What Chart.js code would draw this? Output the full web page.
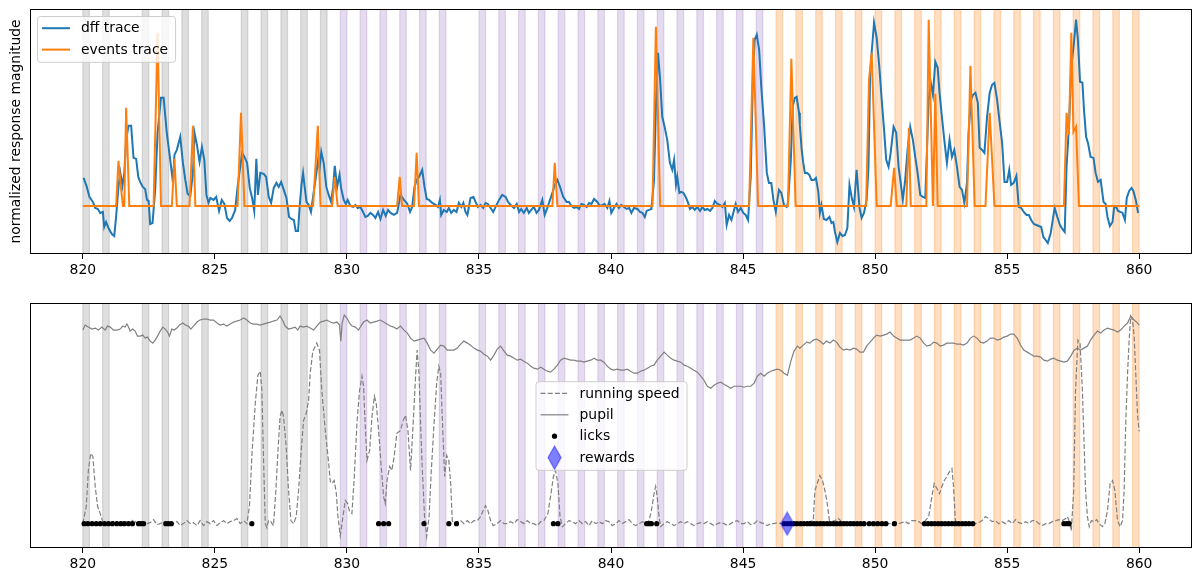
<!DOCTYPE html>
<html>
<head>
<meta charset="utf-8">
<title>response traces</title>
<script src="https://cdn.jsdelivr.net/npm/chart.js@4.4.1/dist/chart.umd.min.js"></script>
<style>
  body { margin: 0; background: #fff; }
  #wrap { position: relative; width: 1202px; height: 582px; }
  #wrap canvas { position: absolute; left: 0; }
</style>
</head>
<body>
<div id="wrap">
  <canvas id="topChart" width="1202" height="291" style="top:0"></canvas>
  <canvas id="bottomChart" width="1202" height="291" style="top:291px"></canvas>
</div>
<script>
// ---- data ----
const xTicks = [820, 825, 830, 835, 840, 845, 850, 855, 860];

// stimulus onsets (s), one list per image block
const grayStarts = [820.0, 820.75, 822.25, 823.0, 823.75, 824.5, 826.0, 826.75, 827.5, 828.25, 829.0];
const purpleStarts = [829.75, 830.5, 831.25, 832.0, 832.75, 833.5, 835.0, 835.75, 836.5, 837.25, 838.0, 838.75,
  839.5, 840.25, 841.0, 841.75, 842.5, 843.25, 844.0, 844.75, 845.5];
const orangeStarts = [846.25, 847.0, 847.75, 848.5, 849.25, 850.0, 850.75, 851.5, 852.25, 853.0, 853.75, 854.5,
  855.25, 856.0, 856.75, 857.5, 858.25, 859.0, 859.75];
const stimDuration = 0.25;

// dff trace
const dffT = [820.03, 820.15, 820.25, 820.38, 820.47, 820.57, 820.66, 820.76, 820.81, 820.88, 820.97, 821.10, 821.19, 821.26,
  821.35, 821.42, 821.50, 821.57, 821.64, 821.73, 821.83, 821.92, 822.02, 822.10, 822.17, 822.27, 822.36, 822.43, 822.49,
  822.55, 822.64, 822.74, 822.83, 822.96, 823.06, 823.18, 823.31, 823.41, 823.47, 823.56, 823.69, 823.79, 823.88, 823.97,
  824.07, 824.17, 824.23, 824.32, 824.42, 824.51, 824.60, 824.68, 824.76, 824.83, 824.95, 825.05, 825.16, 825.26, 825.36,
  825.46, 825.56, 825.65, 825.77, 825.86, 825.96, 826.03, 826.12, 826.22, 826.32, 826.41, 826.49, 826.57, 826.63, 826.72,
  826.85, 826.94, 827.04, 827.13, 827.23, 827.33, 827.42, 827.51, 827.61, 827.71, 827.81, 827.90, 827.99, 828.06, 828.15,
  828.21, 828.28, 828.34, 828.40, 828.47, 828.55, 828.64, 828.74, 828.82, 828.91, 828.97, 829.03, 829.12, 829.22, 829.31,
  829.40, 829.48, 829.54, 829.63, 829.72, 829.78, 829.88, 829.96, 830.03, 830.13, 830.24, 830.32, 830.41, 830.51, 830.61,
  830.70, 830.79, 830.89, 830.99, 831.08, 831.18, 831.27, 831.37, 831.47, 831.56, 831.65, 831.78, 831.90,
  832.03, 832.16, 832.29, 832.39, 832.47, 832.56, 832.64, 832.73, 832.85, 832.94, 833.02, 833.11, 833.23, 833.36, 833.45,
  833.52, 833.57, 833.67, 833.78, 833.86, 833.95, 834.05, 834.15, 834.24, 834.33, 834.41, 834.49, 834.56, 834.62, 834.68,
  834.79, 834.87, 834.96, 835.06, 835.16, 835.25, 835.34, 835.44, 835.54, 835.63, 835.76, 835.88, 836.01, 836.10, 836.20,
  836.33, 836.43, 836.52, 836.60, 836.70, 836.81, 836.89, 836.98, 837.08, 837.18, 837.27, 837.40, 837.49, 837.59, 837.69,
  837.78, 837.87, 837.97, 838.07, 838.19, 838.32, 838.41, 838.50, 838.60, 838.70, 838.79, 838.88, 838.98, 839.08, 839.17,
  839.26, 839.36, 839.48, 839.58, 839.68, 839.76, 839.86, 839.94, 840.01, 840.11, 840.21, 840.30, 840.39, 840.49, 840.59,
  840.69, 840.77, 840.87, 841.00, 841.10, 841.19, 841.28, 841.35, 841.44, 841.53, 841.63, 841.70, 841.78, 841.86, 841.94,
  842.03, 842.13, 842.23, 842.32, 842.39, 842.46, 842.51, 842.59, 842.66, 842.74, 842.83, 842.92, 842.99, 843.08, 843.17,
  843.27, 843.37, 843.46, 843.55, 843.65, 843.75, 843.84, 843.93, 844.03, 844.13, 844.22, 844.31, 844.38, 844.47, 844.56,
  844.63, 844.72, 844.81, 844.91, 845.01, 845.10, 845.19, 845.29, 845.37, 845.44, 845.52, 845.61, 845.69, 845.80, 845.90,
  845.98, 846.07, 846.15, 846.24, 846.30, 846.36, 846.45, 846.55, 846.65, 846.70, 846.81, 846.88, 846.96, 847.03, 847.12,
  847.15, 847.22, 847.28, 847.34, 847.43, 847.51, 847.59, 847.68, 847.76, 847.85, 847.91, 847.97, 848.06, 848.16, 848.27,
  848.35, 848.42, 848.48, 848.57, 848.67, 848.77, 848.86, 848.95, 849.03, 849.11, 849.20, 849.30, 849.41, 849.49, 849.58,
  849.68, 849.75, 849.81, 849.87, 849.96, 850.06, 850.16, 850.25, 850.34, 850.42, 850.51, 850.59, 850.70, 850.80, 850.89,
  850.97, 851.05, 851.14, 851.23, 851.33, 851.43, 851.52, 851.61, 851.71, 851.81, 851.90, 852.03, 852.11, 852.19, 852.28,
  852.37, 852.44, 852.53, 852.62, 852.72, 852.82, 852.91, 853.00, 853.10, 853.20, 853.29, 853.38, 853.48, 853.54, 853.63,
  853.71, 853.80, 853.89, 853.96, 854.05, 854.14, 854.24, 854.34, 854.43, 854.52, 854.62, 854.72, 854.81, 854.90, 855.00,
  855.08, 855.15, 855.25, 855.35, 855.44, 855.53, 855.63, 855.73, 855.82, 855.91, 856.01, 856.11, 856.20, 856.29, 856.37,
  856.46, 856.54, 856.65, 856.71, 856.80, 856.90, 857.00, 857.09, 857.18, 857.25, 857.34, 857.43, 857.53, 857.61, 857.68,
  857.76, 857.85, 857.91, 857.99, 858.06, 858.16, 858.27, 858.35, 858.44, 858.54, 858.65, 858.73, 858.80, 858.89, 858.99,
  859.05, 859.13, 859.20, 859.28, 859.37, 859.46, 859.53, 859.62, 859.71, 859.78, 859.87, 859.96];
const dffV = [0.28, 0.19, 0.09, 0.04, -0.02, -0.03, -0.07, -0.06, -0.21, -0.16, -0.22, -0.28, -0.30, -0.11,
  0.19, 0.33, 0.20, 0.33, 0.66, 0.80, 0.80, 0.48, 0.47, 0.29, 0.24, 0.19, 0.17, 0.06, 0.05,
  -0.18, -0.17, 0.16, 0.73, 1.08, 1.08, 0.73, 0.46, 0.24, 0.51, 0.56, 0.69, 0.43, 0.26, 0.12,
  0.10, 0.33, 0.73, 0.61, 0.44, 0.59, 0.46, 0.11, 0.03, 0.08, 0.06, 0.09, -0.05, 0.06, 0.02,
  -0.12, -0.15, -0.12, -0.04, 0.19, 0.39, 0.53, 0.49, 0.43, 0.18, 0.08, -0.05, 0.47, 0.11, 0.33,
  0.32, 0.29, 0.09, 0.03, 0.18, 0.23, 0.19, 0.24, 0.16, 0.08, -0.11, -0.13, -0.14, -0.25, -0.25,
  -0.01, 0.21, 0.33, 0.19, 0.04, 0.01, -0.06, 0.13, 0.28, 0.46, 0.38, 0.54, 0.43, 0.19, 0.11,
  0.04, 0.19, 0.40, 0.19, 0.31, 0.18, 0.06, 0.02, 0.06, 0.00, -0.01, 0.01, -0.02, -0.01, -0.06,
  -0.11, -0.10, -0.07, -0.09, -0.12, -0.06, -0.13, -0.04, -0.10, -0.04, -0.07, -0.09, -0.07,
  0.11, 0.06, 0.02, -0.06, -0.01, 0.19, 0.26, 0.29, 0.36, 0.19, 0.07, 0.06, 0.03, 0.01, -0.01,
  0.06, -0.09, -0.04, -0.06, -0.02, -0.07, -0.04, -0.06, 0.03, -0.01, 0.03, -0.06, -0.09, -0.01, 0.08,
  0.09, 0.04, -0.01, 0.01, -0.02, 0.03, 0.02, -0.02, -0.06, -0.01, 0.06, 0.11, 0.09, 0.04, 0.01,
  -0.02, 0.02, -0.06, -0.03, -0.07, -0.02, -0.07, -0.04, -0.01, -0.07, -0.04, 0.06, -0.09, -0.02, 0.06,
  0.13, 0.21, 0.26, 0.19, 0.09, 0.04, 0.04, 0.00, -0.02, -0.01, -0.03, 0.02, 0.01, -0.01, 0.03,
  0.02, 0.07, 0.04, 0.00, 0.01, 0.02, -0.02, 0.05, -0.07, -0.02, 0.02, -0.02, 0.01, -0.01, -0.03,
  -0.02, -0.07, -0.02, -0.03, -0.06, -0.07, -0.11, -0.05, -0.04, -0.03, 0.26, 0.99, 1.53, 1.26, 0.89,
  0.79, 0.66, 0.43, 0.36, 0.46, 0.21, 0.29, 0.13, 0.14, 0.13, 0.09, 0.03, -0.03, -0.01, -0.04,
  -0.01, -0.05, -0.01, -0.04, -0.03, -0.05, -0.02, 0.05, 0.02, 0.01, -0.01, 0.03, -0.19, -0.09, -0.14,
  -0.07, 0.02, -0.06, -0.02, -0.07, -0.09, -0.14, 0.29, 1.23, 1.66, 1.71, 1.56, 1.19, 0.79, 0.33,
  0.23, 0.23, 0.06, -0.06, 0.06, 0.16, 0.13, 0.01, -0.01, 0.03, 0.46, 0.99, 1.08, 1.09, 0.93,
  0.81, 0.56, 0.43, 0.33, 0.33, 0.31, 0.26, 0.26, 0.28, 0.14, -0.07, 0.01, -0.13, -0.14, -0.11,
  -0.17, -0.16, -0.26, -0.36, -0.27, -0.30, -0.29, -0.22, 0.21, 0.09, -0.01, 0.36, -0.02, -0.12, -0.07,
  0.06, 0.39, 1.28, 1.53, 1.83, 1.68, 1.39, 1.06, 0.76, 0.46, 0.39, 0.53, 0.79, 0.73, 0.39,
  0.23, 0.06, 0.26, 0.56, 0.79, 0.66, 0.49, 0.33, 0.11, 0.09, 0.08, 1.06, 1.23, 1.11, 1.44,
  1.38, 1.13, 0.89, 0.66, 0.43, 0.66, 0.49, 0.56, 0.39, 0.19, 0.16, 0.03, 0.23, 0.73, 1.06,
  1.11, 1.13, 1.03, 0.58, 0.56, 0.53, 0.89, 1.13, 1.21, 1.23, 1.06, 0.83, 0.63, 0.24, 0.24,
  0.36, 0.21, 0.23, 0.30, -0.01, -0.02, -0.06, -0.09, -0.09, -0.14, -0.18, -0.19, -0.20, -0.21, -0.31,
  -0.34, -0.37, -0.27, -0.17, -0.02, -0.11, -0.19, -0.23, -0.26, 0.39, 0.79, 1.39, 1.63, 1.86, 1.66,
  1.24, 1.23, 0.96, 0.69, 0.63, 0.49, 0.48, 0.33, 0.24, 0.26, 0.04, 0.02, -0.11, -0.20, -0.16,
  -0.02, -0.01, -0.05, -0.06, -0.07, -0.14, 0.08, 0.15, 0.18, 0.15, 0.06, -0.07];

// events trace
const eventT = [820.00, 821.26, 821.35, 821.44, 821.52, 821.57, 821.64, 821.76, 822.68, 822.83, 822.96, 823.37, 823.47,
  823.56, 824.04, 824.17, 824.26, 825.86, 825.99, 826.12, 828.72, 828.90, 829.00, 829.44, 829.54, 829.65, 831.90, 832.00,
  832.09, 832.54, 832.64, 832.73, 837.78, 837.87, 837.97, 841.57, 841.70, 841.86, 845.23, 845.39, 845.57, 846.70, 846.83,
  846.99, 849.66, 849.77, 849.87, 850.06, 850.59, 850.72, 850.82, 851.18, 851.28, 851.35, 851.94, 852.03, 852.19, 852.28,
  852.37, 853.48, 853.61, 853.77, 854.18, 854.34, 854.52, 857.15, 857.25, 857.34, 857.43, 857.51, 857.61, 857.72, 860.00];
const eventV = [0, 0, 0.45, 0.19, 0, 0, 0.98, 0, 0, 1.73, 0, 0, 0.47,
  0, 0, 0.80, 0, 0, 0.93, 0, 0, 0.80, 0, 0, 0.29, 0, 0, 0.29,
  0, 0, 0.53, 0, 0, 0.43, 0, 0, 1.79, 0, 0, 1.68, 0, 0, 1.47,
  0, 0, 1.26, 1.53, 0, 0, 0.38, 0, 0, 0.78, 0, 0, 1.86, 0, 1.12,
  0, 0, 1.40, 0, 0, 0.93, 0, 0, 0.93, 0.71, 1.73, 0.74, 0.79, 0, 0];

// running speed
const runT = [820.00, 820.13, 820.21, 820.30, 820.38, 820.47, 820.56, 820.66,
  820.78, 820.91, 821.04, 821.16, 821.29, 821.41, 821.54, 821.67, 821.79, 821.92, 822.05, 822.17, 822.30, 822.42, 822.55,
  822.68, 822.80, 822.93, 823.06, 823.18, 823.31, 823.43, 823.56, 823.69, 823.81, 823.94, 824.07, 824.19, 824.32, 824.44,
  824.57, 824.70, 824.82, 824.95, 825.08, 825.20, 825.33, 825.45, 825.58, 825.71, 825.83, 825.96, 826.09, 826.21,
  826.31, 826.40, 826.53, 826.63, 826.72, 826.78, 826.84, 826.91, 826.97, 827.03, 827.12, 827.22, 827.31, 827.39, 827.47,
  827.54, 827.60, 827.70, 827.79, 827.88, 827.98, 828.08, 828.17, 828.27, 828.36, 828.46, 828.55, 828.61, 828.71, 828.86,
  828.96, 829.05, 829.18, 829.31, 829.37, 829.43, 829.52, 829.60, 829.66, 829.75, 829.85, 829.94, 830.03, 830.10, 830.19,
  830.28, 830.38, 830.48, 830.57, 830.63, 830.69, 830.76, 830.86, 830.95, 831.04, 831.11, 831.20, 831.29, 831.39, 831.45,
  831.52, 831.62, 831.70, 831.79, 831.89,
  832.03, 832.13, 832.22, 832.31, 832.41, 832.51, 832.60, 832.66, 832.73, 832.79, 832.85, 832.94, 833.02, 833.11, 833.19,
  833.30, 833.40, 833.48, 833.55, 833.61, 833.70, 833.78, 833.86, 833.93, 833.99, 834.05,
  834.18, 834.31, 834.43, 834.56, 834.68, 834.81, 834.94, 835.06, 835.16, 835.25, 835.34, 835.44, 835.54, 835.69, 835.82,
  835.95, 836.07, 836.20, 836.33, 836.45, 836.58, 836.70, 836.83, 836.96, 837.08, 837.21, 837.34, 837.46, 837.61, 837.71,
  837.82, 837.90, 837.99, 838.07, 838.16,
  838.28, 838.41, 838.54, 838.66, 838.79, 838.91, 839.04, 839.17, 839.29, 839.42, 839.55, 839.67, 839.80, 839.92, 840.05,
  840.18, 840.30, 840.43, 840.56, 840.68, 840.81, 840.93, 841.06, 841.19, 841.31, 841.44, 841.53, 841.63, 841.69, 841.75,
  841.82, 841.88,
  842.01, 842.13, 842.26, 842.39, 842.51, 842.64, 842.77, 842.89, 843.02, 843.14, 843.27, 843.40, 843.52, 843.65, 843.78,
  843.90, 844.03, 844.15, 844.28, 844.41, 844.53, 844.66, 844.79, 844.91, 845.04, 845.16, 845.29, 845.42, 845.54, 845.67,
  845.80, 845.92, 846.05, 846.17, 846.30, 846.43, 846.55, 846.68, 846.81, 846.93, 847.06,
  847.15, 847.28, 847.41, 847.53, 847.66, 847.72, 847.81, 847.91, 848.01, 848.10, 848.19, 848.27, 848.35, 848.48, 848.61,
  848.73, 848.86, 848.99, 849.11, 849.24, 849.37, 849.49, 849.62, 849.75, 849.87, 850.00, 850.13, 850.25, 850.38, 850.51,
  850.63, 850.76, 850.89, 851.01, 851.14, 851.27, 851.39, 851.52, 851.65, 851.77, 851.90, 852.03, 852.15, 852.24, 852.34,
  852.44, 852.53, 852.62, 852.72, 852.82, 852.91, 852.97, 853.04, 853.16, 853.29, 853.42, 853.54, 853.67, 853.80, 853.92,
  854.05, 854.18, 854.30, 854.43, 854.56, 854.68, 854.81, 854.94, 855.06, 855.19, 855.32, 855.44, 855.57, 855.70, 855.82,
  855.95, 856.08, 856.20, 856.33, 856.46, 856.58, 856.71, 856.84, 856.96, 857.09, 857.22, 857.28, 857.34, 857.43, 857.52,
  857.59, 857.68, 857.76, 857.85, 857.91, 857.97, 858.04, 858.11, 858.19, 858.29, 858.39, 858.48, 858.61, 858.70, 858.80,
  858.90, 858.99, 859.08, 859.18, 859.28, 859.37, 859.43, 859.49, 859.56, 859.62, 859.68, 859.75, 859.81, 859.87, 859.94,
  860.00];
const runV = [0, 0.17, 0.53, 0.70, 0.67, 0.37, 0.17, 0.10,
  0, -0.02, 0, 0.02, -0.01, 0.01, 0, 0.02, 0.01, 0.04, 0, -0.01, -0.02, 0, 0.01,
  0.04, -0.01, 0, 0.02, 0, -0.02, 0, 0.02, -0.02, 0, 0.03, 0, 0.01, -0.02, 0.03,
  -0.02, 0.02, 0, 0.03, -0.02, 0.01, 0.03, 0, 0.02, 0.03, 0.05, 0, 0.03, 0,
  0.17, 0.67, 1.20, 1.48, 1.52, 1.33, 0.67, 0, -0.04, 0.03, 0.02, -0.02, 0.33, 0.73, 1.07,
  1.13, 1.07, 0.77, 0.33, 0.03, 0, 0.07, 0.33, 0.73, 1.03, 1.10, 1.23, 1.50, 1.72, 1.80,
  1.73, 1.33, 0.93, 0.60, 0.42, 0.40, 0.43, 0.30, 0.07, -0.12, 0.07, 0.23, 0.20, 0.12, 0.10,
  0.47, 1.00, 1.33, 1.47, 1.37, 1.00, 0.63, 0.73, 1.07, 1.27, 1.20, 0.93, 0.60, 0.27, 0.20,
  0.43, 0.57, 0.53, 0.67, 0.90,
  0.93, 1.03, 1.08, 0.93, 0.53, 1.00, 1.47, 1.73, 1.50, 1.00, 0.57, 0.07, -0.13, 0.07, 0.50,
  1.00, 1.40, 1.57, 1.50, 1.07, 0.47, 0.68, 0.63, 0.40, 0.03, 0,
  0.02, 0.03, 0, 0.03, 0, 0.03, 0.03, 0.07, 0.13, 0.18, 0.13, 0.03, -0.02, 0, 0.03,
  0, 0, 0.02, 0, 0.04, 0.02, 0, 0.03, 0, 0, -0.02, 0.02, 0.03, 0.10, 0.27,
  0.47, 0.53, 0.40, 0.07, -0.03,
  0, 0.03, 0.02, 0, 0.03, 0, 0.02, -0.02, 0.03, 0, 0.02, 0, 0.03, 0.02, -0.02,
  0, 0.03, 0, 0.02, 0.04, 0, -0.02, 0, 0.02, 0, 0.03, 0.13, 0.30, 0.37, 0.27,
  0.07, -0.03,
  0, 0.02, 0, -0.02, 0, 0.02, 0, 0.02, 0, -0.02, 0, 0.01, 0, 0.02, 0,
  -0.02, 0, 0.01, 0, -0.02, 0, 0.02, 0.03, 0, 0, 0.02, -0.01, 0, 0.03, 0.01,
  0, -0.02, 0, 0, 0.01, 0, 0, 0, 0, 0, 0,
  0, 0, 0.01, 0.02, 0.03, 0.33, 0.40, 0.48, 0.43, 0.33, 0.20, 0.03, 0.02, 0.03, 0.05,
  0.02, 0, 0, 0.02, 0, 0.01, 0, 0, 0, 0, 0, 0, 0, 0, 0,
  0, 0.02, 0, 0.01, 0.02, 0, 0.03, 0.03, 0.02, 0, 0.03, 0.07, 0.27, 0.40, 0.35,
  0.30, 0.37, 0.43, 0.47, 0.52, 0.55, 0.37, 0.03, 0, 0, 0.01, 0, 0.02, 0, 0.01,
  0.03, 0.07, 0.05, 0.02, 0.03, 0, 0.02, 0, 0.03, 0, 0.04, 0.01, 0, 0.02, 0,
  0.03, 0.03, 0, -0.02, 0, 0, 0.02, 0.03, 0.04, 0.03, 0.05, 0.07, 0.03, -0.07, 0.33,
  1.33, 1.83, 1.80, 1.33, 0.83, 0.33, 0.07, -0.03, 0.03, 0.02, 0.04, 0, -0.03, 0, 0.13,
  0.40, 0.43, 0.33, 0.03, -0.03, 0.03, 0.33, 1.00, 1.50, 1.83, 2.07, 2.03, 1.87, 1.50, 1.07,
  0.92];

// pupil area
const pupilT = [820.00, 820.09, 820.21, 820.34, 820.47, 820.59, 820.72, 820.85, 820.93, 821.04, 821.16, 821.29, 821.41,
  821.52, 821.60, 821.67, 821.73, 821.79, 821.89, 821.98, 822.07, 822.17, 822.27, 822.36, 822.45, 822.55, 822.65, 822.74,
  822.83, 822.93, 823.03, 823.12, 823.21, 823.28, 823.37, 823.46, 823.56, 823.66, 823.79, 823.88, 824.00, 824.09, 824.19,
  824.32, 824.44, 824.57, 824.70, 824.82, 824.95, 825.08, 825.20, 825.33, 825.45, 825.58, 825.71, 825.83, 825.96, 826.09,
  826.21, 826.34, 826.46, 826.59, 826.72, 826.84, 826.97, 827.10, 827.22, 827.35, 827.47, 827.58, 827.66, 827.79, 827.92,
  828.04, 828.14, 828.23, 828.36, 828.48, 828.61, 828.74, 828.86, 828.99, 829.12, 829.24, 829.37, 829.49, 829.62, 829.72,
  829.77, 829.82, 829.90, 830.00, 830.10, 830.20, 830.32, 830.44, 830.53, 830.63, 830.76, 830.88, 831.01, 831.14, 831.26,
  831.39, 831.52, 831.64, 831.77, 831.89,
  832.03, 832.16, 832.29, 832.41, 832.54, 832.66, 832.79, 832.92, 833.04, 833.17, 833.30, 833.42, 833.55, 833.67, 833.80,
  833.93, 834.05, 834.18, 834.31, 834.43, 834.56, 834.68, 834.81, 834.94, 835.06, 835.19, 835.32, 835.44, 835.57, 835.69,
  835.82, 835.95, 836.07, 836.20, 836.33, 836.45, 836.58, 836.70, 836.83, 836.96, 837.08, 837.21, 837.34, 837.46, 837.59,
  837.71, 837.84, 837.97, 838.09, 838.22, 838.35, 838.47, 838.60, 838.72, 838.85, 838.98, 839.10, 839.23, 839.36, 839.48,
  839.61, 839.73, 839.86, 839.99, 840.11, 840.24, 840.37, 840.49, 840.62, 840.74, 840.87, 841.00, 841.12, 841.25, 841.38,
  841.50, 841.63, 841.75, 841.88, 842.01, 842.13, 842.26, 842.39, 842.51, 842.64, 842.77, 842.89, 843.02, 843.14, 843.27,
  843.40, 843.52, 843.65, 843.78, 843.90, 844.03, 844.15, 844.28, 844.41, 844.53, 844.66, 844.79, 844.91, 845.04, 845.16,
  845.29, 845.42, 845.54, 845.67, 845.80, 845.92, 846.05, 846.17, 846.30, 846.43, 846.55, 846.68, 846.81, 846.93, 847.06,
  847.15, 847.28, 847.41, 847.53, 847.66, 847.78, 847.91, 848.04, 848.16, 848.29, 848.42, 848.54, 848.67, 848.80, 848.92,
  849.05, 849.18, 849.30, 849.43, 849.56, 849.68, 849.81, 849.94, 850.06, 850.19, 850.32, 850.44, 850.57, 850.70, 850.82,
  850.95, 851.08, 851.20, 851.33, 851.46, 851.58, 851.71, 851.84, 851.96, 852.09, 852.22, 852.34, 852.47, 852.59, 852.72,
  852.85, 852.97, 853.10, 853.23, 853.35, 853.48, 853.61, 853.73, 853.86, 853.99, 854.11, 854.24, 854.37, 854.49, 854.62,
  854.75, 854.87, 855.00, 855.13, 855.25, 855.38, 855.51, 855.63, 855.76, 855.89, 856.01, 856.14, 856.27, 856.39, 856.52,
  856.65, 856.77, 856.90, 857.03, 857.15, 857.28, 857.41, 857.53, 857.66, 857.78, 857.91, 858.04, 858.16, 858.29, 858.42,
  858.54, 858.67, 858.80, 858.92, 859.05, 859.18, 859.30, 859.43, 859.56, 859.68, 859.81, 859.94, 860.00];
const pupilV = [1.93, 1.98, 1.96, 1.94, 1.95, 1.93, 1.96, 1.93, 1.97, 1.96, 1.93, 1.93, 1.94,
  1.97, 1.96, 1.99, 1.96, 1.92, 1.94, 1.92, 1.87, 1.87, 1.88, 1.85, 1.86, 1.82, 1.80, 1.83,
  1.87, 1.92, 1.96, 1.94, 1.91, 1.87, 1.94, 1.93, 1.95, 1.98, 2.00, 1.98, 1.97, 1.94, 1.97,
  2.01, 2.03, 2.04, 2.04, 2.03, 2.03, 2.00, 1.98, 1.99, 1.97, 1.99, 2.01, 2.02, 2.03, 2.05,
  2.03, 2.00, 1.99, 1.99, 1.98, 1.99, 2.00, 2.01, 2.02, 2.03, 2.07, 2.02, 1.97, 1.94, 1.95,
  1.96, 1.93, 1.97, 1.96, 1.97, 1.95, 1.93, 1.97, 2.01, 2.02, 2.03, 2.01, 2.00, 2.01, 1.98,
  1.82, 2.00, 2.08, 2.05, 2.00, 1.97, 1.96, 1.93, 1.97, 2.01, 2.03, 2.00, 2.01, 2.02, 2.03,
  2.01, 1.99, 1.97, 1.96, 1.94,
  1.97, 1.93, 1.90, 1.85, 1.82, 1.83, 1.84, 1.85, 1.80, 1.73, 1.70, 1.74, 1.78, 1.77, 1.73,
  1.73, 1.73, 1.75, 1.79, 1.82, 1.80, 1.78, 1.75, 1.73, 1.72, 1.69, 1.67, 1.63, 1.68, 1.74,
  1.77, 1.72, 1.68, 1.67, 1.65, 1.63, 1.64, 1.62, 1.60, 1.57, 1.55, 1.54, 1.56, 1.54, 1.52,
  1.51, 1.54, 1.58, 1.63, 1.65, 1.64, 1.63, 1.63, 1.62, 1.62, 1.61, 1.62, 1.63, 1.65, 1.63,
  1.63, 1.61, 1.57, 1.54, 1.53, 1.54, 1.53, 1.53, 1.54, 1.52, 1.50, 1.50, 1.52, 1.53, 1.55,
  1.57, 1.58, 1.63, 1.67, 1.71, 1.68, 1.65, 1.63, 1.62, 1.61, 1.58, 1.57, 1.55, 1.53, 1.51,
  1.47, 1.43, 1.37, 1.35, 1.38, 1.40, 1.41, 1.39, 1.37, 1.35, 1.37, 1.37, 1.37, 1.36, 1.37,
  1.37, 1.40, 1.47, 1.50, 1.47, 1.50, 1.52, 1.53, 1.54, 1.53, 1.50, 1.48, 1.62, 1.72, 1.77,
  1.75, 1.78, 1.81, 1.80, 1.83, 1.84, 1.82, 1.79, 1.82, 1.80, 1.83, 1.81, 1.76, 1.73, 1.74,
  1.73, 1.75, 1.74, 1.71, 1.71, 1.77, 1.81, 1.85, 1.88, 1.87, 1.88, 1.89, 1.91, 1.87, 1.85,
  1.83, 1.83, 1.83, 1.83, 1.85, 1.87, 1.85, 1.80, 1.77, 1.78, 1.81, 1.80, 1.77, 1.78, 1.80,
  1.80, 1.80, 1.79, 1.79, 1.78, 1.80, 1.85, 1.87, 1.85, 1.81, 1.80, 1.82, 1.85, 1.85, 1.83,
  1.84, 1.86, 1.87, 1.89, 1.89, 1.85, 1.78, 1.73, 1.71, 1.69, 1.67, 1.67, 1.66, 1.63, 1.62,
  1.64, 1.65, 1.63, 1.62, 1.61, 1.62, 1.67, 1.73, 1.75, 1.73, 1.75, 1.77, 1.83, 1.88, 1.92,
  1.90, 1.93, 1.95, 1.94, 1.93, 1.91, 1.93, 1.97, 2.00, 2.07, 2.03, 2.00, 1.98];

// licks and rewards (s)
const lickT = [820.05, 820.19, 820.35, 820.51, 820.66, 820.82, 820.97, 821.12, 821.29, 821.44, 821.57, 821.73, 821.88,
  822.11, 822.20, 822.30, 823.14, 823.24, 823.35, 826.40, 831.20, 831.39, 831.58, 832.92, 833.86, 834.15, 837.82, 837.99,
  841.35, 841.44, 841.53, 841.73,
  846.56, 846.68, 846.80, 846.93, 847.05, 847.18, 847.30, 847.43, 847.55, 847.68, 847.80, 847.93, 848.05, 848.18, 848.30,
  848.43, 848.55, 848.68, 848.81, 848.93, 849.06, 849.19, 849.32, 849.45, 849.58, 849.78, 849.94, 850.10, 850.26, 850.41,
  850.73, 851.87, 852.00, 852.13, 852.26, 852.39, 852.52, 852.65, 852.78, 852.91, 853.04, 853.17, 853.30, 853.43, 853.56,
  853.70, 857.15, 857.25, 857.35];
const rewardT = [846.67];
const eventLevel = 0;

// ---- drawing ----
const FONT = { family: 'DejaVu Sans', size: 13.9 };
const FONT_CSS = "13.9px 'DejaVu Sans'";

function pts(ts, vs) {
    return ts.map((t, i) => ({ x: t, y: vs[i] }));
}

function tallDiamond(w, h, color) {
    const c = document.createElement('canvas');
    c.width = w + 2;
    c.height = h + 2;
    const g = c.getContext('2d');
    g.beginPath();
    g.moveTo(c.width / 2, 1);
    g.lineTo(c.width - 1, c.height / 2);
    g.lineTo(c.width / 2, c.height - 1);
    g.lineTo(1, c.height / 2);
    g.closePath();
    g.fillStyle = color;
    g.fill();
    g.strokeStyle = color;
    g.lineWidth = 1.2;
    g.stroke();
    return c;
}

const bandPlugin = {
    id: 'bands',
    beforeDatasetsDraw(chart) {
        const { ctx, chartArea: a, scales: { x } } = chart;
        const groups = [
            { starts: grayStarts, color: 'rgba(128,128,128,0.26)' },
            { starts: purpleStarts, color: 'rgba(148,103,189,0.24)' },
            { starts: orangeStarts, color: 'rgba(255,127,14,0.26)' }
        ];
        ctx.save();
        ctx.beginPath();
        ctx.rect(a.left, a.top, a.width, a.height);
        ctx.clip();
        groups.forEach(g => {
            ctx.fillStyle = g.color;
            ctx.strokeStyle = g.color;
            ctx.lineWidth = 1.2;
            g.starts.forEach(s => {
                const x0 = x.getPixelForValue(s);
                const x1 = x.getPixelForValue(s + stimDuration);
                ctx.fillRect(x0, a.top, x1 - x0, a.height);
                ctx.strokeRect(x0, a.top - 2, x1 - x0, a.height + 4);
            });
        });
        ctx.restore();
    }
};

const framePlugin = {
    id: 'frame',
    afterDatasetsDraw(chart) {
        const { ctx, chartArea: a } = chart;
        ctx.save();
        ctx.strokeStyle = '#000';
        ctx.lineWidth = 1;
        ctx.strokeRect(a.left + 0.5, a.top + 0.5, a.width - 1, a.height - 1);
        ctx.restore();
    }
};

function legendPlugin(order, loc) {
    return {
        id: 'boxLegend',
        afterDraw(chart) {
            const { ctx, chartArea: a } = chart;
            const sets = order.map(l => chart.data.datasets.find(d => d.label === l));
            ctx.save();
            ctx.font = FONT_CSS;
            const textW = Math.max(...order.map(l => ctx.measureText(l).width));
            const w = 44 + textW + 7;
            const rowH = 21.4;
            const h = 24.4 + rowH * (order.length - 1);
            let bx, by;
            if (loc === 'upper left') {
                bx = a.left + 7;
                by = a.top + 7;
            } else {
                bx = a.left + (a.width - w) / 2;
                by = a.top + (a.height - h) / 2;
            }
            ctx.beginPath();
            ctx.roundRect(bx + 0.5, by + 0.5, w, h, 3);
            ctx.fillStyle = 'rgba(255,255,255,0.8)';
            ctx.fill();
            ctx.strokeStyle = '#cccccc';
            ctx.lineWidth = 1;
            ctx.stroke();

            sets.forEach((d, i) => {
                const cy = by + 12.2 + i * rowH;
                const hx = bx + 19;
                if (d.showLine === false) {
                    if (d.pointStyle && typeof d.pointStyle === 'object') {
                        const img = d.pointStyle;
                        ctx.drawImage(img, hx - img.width / 2, cy - img.height / 2);
                    } else {
                        ctx.beginPath();
                        ctx.arc(hx, cy, d.pointRadius, 0, Math.PI * 2);
                        ctx.fillStyle = d.pointBackgroundColor;
                        ctx.fill();
                    }
                } else {
                    ctx.beginPath();
                    ctx.setLineDash(d.borderDash || []);
                    ctx.moveTo(bx + 5, cy);
                    ctx.lineTo(bx + 33, cy);
                    ctx.strokeStyle = d.borderColor;
                    ctx.lineWidth = d.borderWidth;
                    ctx.stroke();
                    ctx.setLineDash([]);
                }
                ctx.fillStyle = '#000';
                ctx.textAlign = 'left';
                ctx.textBaseline = 'middle';
                ctx.fillText(d.label, bx + 44, cy + 0.5);
            });
            ctx.restore();
        }
    };
}

function xScale(height) {
    return {
        type: 'linear',
        min: 818,
        max: 862,
        afterBuildTicks: s => { s.ticks = xTicks.map(v => ({ value: v })); },
        afterFit: s => { s.height = height; },
        grid: { drawOnChartArea: false, drawTicks: true, tickLength: 5, tickWidth: 1, tickColor: '#000' },
        border: { display: false },
        ticks: { color: '#000', font: FONT, padding: 3, maxRotation: 0, autoSkip: false, callback: v => String(v) }
    };
}

function yScale(min, max, title) {
    return {
        min: min,
        max: max,
        afterFit: s => { s.width = 30; },
        grid: { display: false },
        border: { display: false },
        ticks: { display: false },
        title: { display: !!title, text: title || '', color: '#000', font: FONT, padding: { top: 8, bottom: 0 } }
    };
}

const common = {
    responsive: false,
    animation: false,
    events: [],
    plugins: { legend: { display: false }, tooltip: { enabled: false } },
    elements: { line: { tension: 0 }, point: { radius: 0 } }
};

new Chart(document.getElementById('topChart'), {
    type: 'line',
    data: {
        datasets: [
            { label: 'dff trace', data: pts(dffT, dffV), borderColor: '#1f77b4', borderWidth: 2, pointRadius: 0, order: 1 },
            { label: 'events trace', data: pts(eventT, eventV), borderColor: '#ff7f0e', borderWidth: 2, pointRadius: 0, order: 0 }
        ]
    },
    options: Object.assign({}, common, {
        layout: { padding: { top: 9, right: 10, left: 0, bottom: 0 } },
        scales: { x: xScale(37), y: yScale(-0.48, 1.967, 'normalized response magnitude') }
    }),
    plugins: [bandPlugin, framePlugin, legendPlugin(['dff trace', 'events trace'], 'upper left')]
});

const diamond = tallDiamond(13, 23, 'rgba(0,0,255,0.5)');

new Chart(document.getElementById('bottomChart'), {
    type: 'line',
    data: {
        datasets: [
            { label: 'running speed', data: pts(runT, runV), borderColor: 'gray', borderWidth: 1.2, borderDash: [5, 2.2], pointRadius: 0, order: 3 },
            { label: 'pupil', data: pts(pupilT, pupilV), borderColor: 'gray', borderWidth: 1.2, pointRadius: 0, order: 2 },
            { label: 'licks', data: lickT.map(t => ({ x: t, y: eventLevel })), showLine: false, pointRadius: 2.6,
              pointBackgroundColor: '#000', pointBorderWidth: 0, order: 1 },
            { label: 'rewards', data: rewardT.map(t => ({ x: t, y: eventLevel })), showLine: false, pointRadius: 6,
              pointStyle: diamond, order: 0 }
        ]
    },
    options: Object.assign({}, common, {
        layout: { padding: { top: 12, right: 10, left: 0, bottom: 0 } },
        scales: { x: xScale(34), y: yScale(-0.243, 2.2, '') }
    }),
    plugins: [bandPlugin, framePlugin, legendPlugin(['running speed', 'pupil', 'licks', 'rewards'], 'center')]
});
</script>
</body>
</html>
